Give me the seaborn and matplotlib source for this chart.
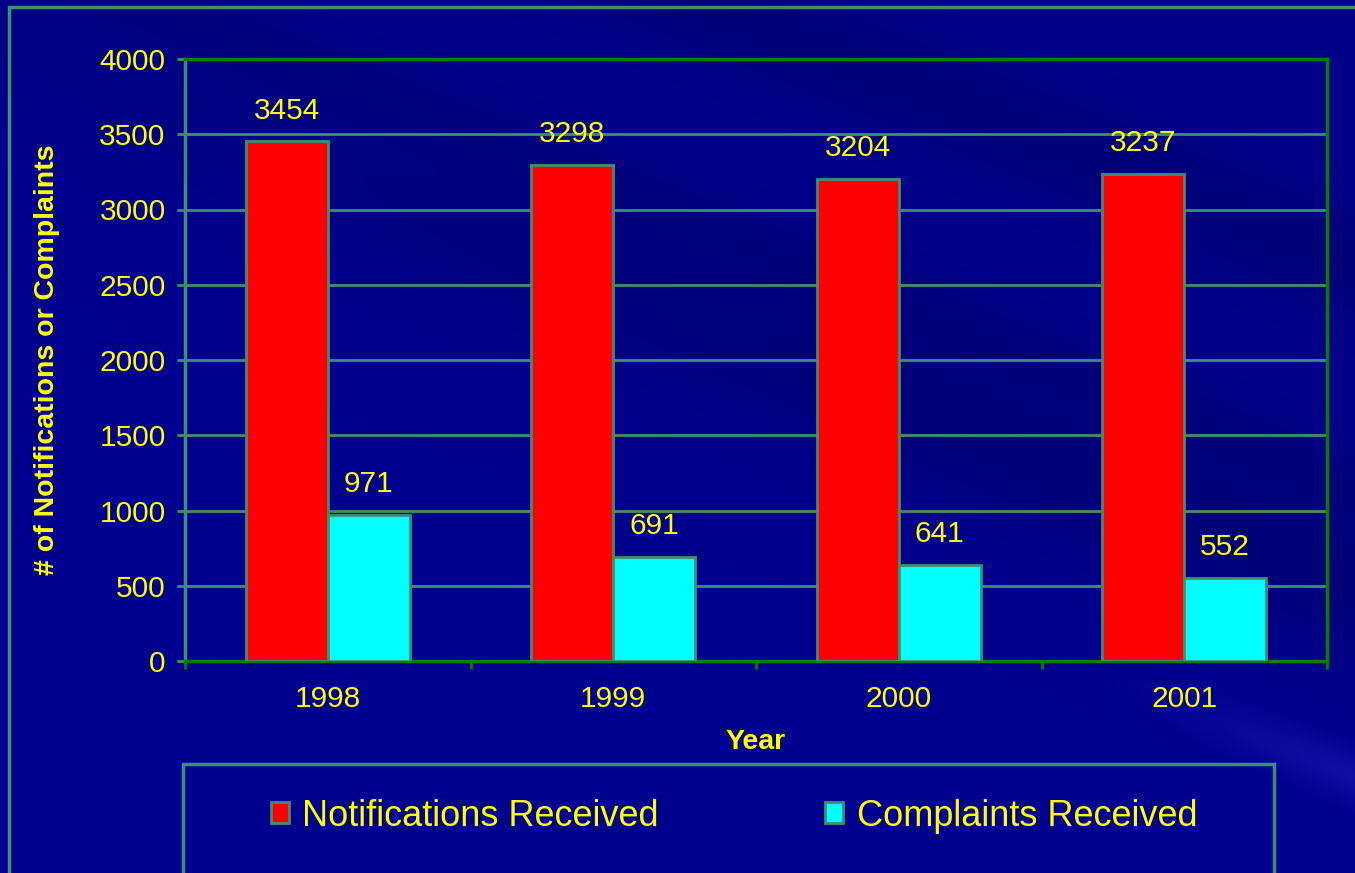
import numpy as np
import pandas as pd
import matplotlib
matplotlib.use('Agg')
import matplotlib.pyplot as plt
from matplotlib.patches import Rectangle
import seaborn as sns

# Data
years = ['1998', '1999', '2000', '2001']
notifications = [3454, 3298, 3204, 3237]
complaints = [971, 691, 641, 552]
series_names = ['Notifications Received', 'Complaints Received']

df = pd.DataFrame({
    'Year': years * 2,
    'count': notifications + complaints,
    'series': [series_names[0]] * 4 + [series_names[1]] * 4,
})

plt.rcParams['font.family'] = ['Liberation Sans', 'DejaVu Sans']

YELLOW = '#FFFF00'
GRID_GREEN = '#3C9070'
DARK_GREEN = '#008000'

fig = plt.figure(figsize=(13.55, 8.73), dpi=100)

# background: blue with darker diagonal streaks and a faint light one
bg = fig.add_axes([0, 0, 1, 1], zorder=-10)
bg.axis('off')
yy, xx = np.mgrid[0:873:300j, 0:1355:450j]
t = yy - 0.40 * xx
b = 0.54 + 0.02 * np.clip((t + 150) / 500, 0, 1)
b = b - 0.08 * np.exp(-((t - 40) / 80) ** 2) * np.clip(xx / 1355 + 0.3, 0, 1)
b = b - 0.07 * np.exp(-((t + 280) / 60) ** 2)
b = b - 0.05 * np.exp(-((t + 60) / 40) ** 2)
glow = 0.09 * np.exp(-((t - 235) / 25) ** 2) * np.clip((xx - 1100) / 250, 0, 1)
img = np.dstack([glow * 0.8, glow * 0.6, b + glow])
bg.imshow(img.clip(0, 1), aspect='auto', extent=[0, 1, 0, 1])
bg.set_xlim(0, 1)
bg.set_ylim(0, 1)

ax = fig.add_axes([185 / 1355, 1 - 661 / 873, 1142 / 1355, 602 / 873])
ax.patch.set_alpha(0)

sns.barplot(data=df, x='Year', y='count', hue='series',
            palette=['#FF0000', '#00FFFF'], width=0.573,
            edgecolor=GRID_GREEN, linewidth=2, saturation=1, ax=ax, zorder=3)

handles, labels = ax.get_legend_handles_labels()
ax.get_legend().remove()

for cont in ax.containers:
    ax.bar_label(cont, padding=12, color=YELLOW, fontsize=21.5)

ax.set_ylim(0, 4000)
ax.set_yticks(np.arange(0, 4001, 500))
ax.set_xlim(-0.5, 3.5)
ax.yaxis.grid(True, color=GRID_GREEN, linewidth=2, zorder=0)
ax.set_axisbelow(True)

for side in ['top', 'right', 'bottom']:
    ax.spines[side].set_color(DARK_GREEN)
    ax.spines[side].set_linewidth(2.5)
ax.spines['left'].set_color(GRID_GREEN)
ax.spines['left'].set_linewidth(2.5)

ax.tick_params(axis='y', colors=GRID_GREEN, labelcolor=YELLOW, labelsize=21.5,
               length=6, width=2, pad=8)
ax.tick_params(axis='x', which='major', length=0, labelcolor=YELLOW,
               labelsize=21.5, pad=17)
ax.set_xticks([-0.5, 0.5, 1.5, 2.5, 3.5], minor=True)
ax.tick_params(axis='x', which='minor', length=6, width=2, colors=DARK_GREEN)

ax.set_xlabel('Year', color=YELLOW, fontsize=20.5, fontweight='bold', labelpad=12)
ax.set_ylabel('# of Notifications or Complaints', color=YELLOW,
              fontsize=20.5, fontweight='bold')
ax.yaxis.set_label_coords(-0.1095, 0.5)

# outer frame and legend box
fig.add_artist(Rectangle((9 / 1355, -0.1), 1.2, 1 - 7 / 873 + 0.1,
                         transform=fig.transFigure, fill=False,
                         edgecolor=GRID_GREEN, linewidth=2.5))
fig.add_artist(Rectangle((183 / 1355, -0.1), (1274 - 183) / 1355,
                         (873 - 764) / 873 + 0.1,
                         transform=fig.transFigure, fill=False,
                         edgecolor=GRID_GREEN, linewidth=2.5))

leg = fig.legend(handles, labels, loc='center', ncol=2, frameon=False,
                 bbox_to_anchor=(734 / 1355, 1 - 816 / 873),
                 fontsize=26, handlelength=0.5, handleheight=0.5,
                 handletextpad=0.38, columnspacing=4.6)
for txt in leg.get_texts():
    txt.set_color(YELLOW)

fig.savefig('out.png', dpi=100, facecolor='#00008C')
